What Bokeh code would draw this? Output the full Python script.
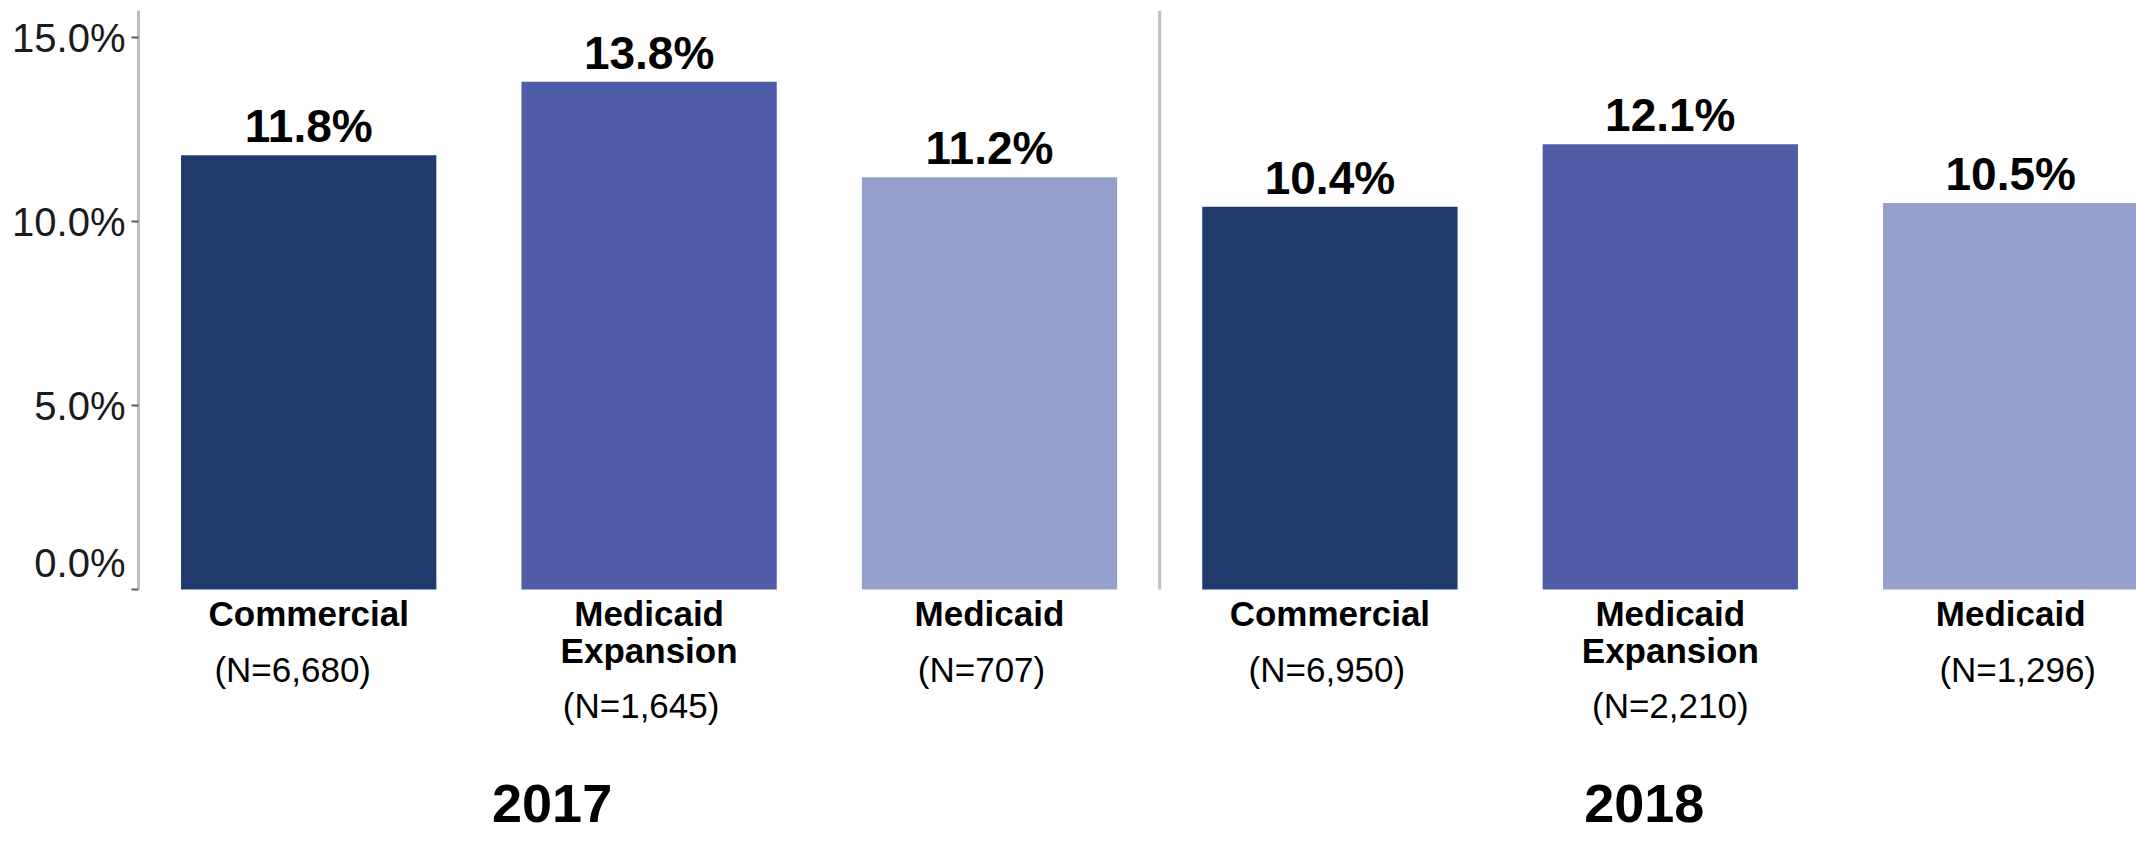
from bokeh.plotting import figure
from bokeh.models import ColumnDataSource, Range1d, FixedTicker, PrintfTickFormatter
from bokeh.core.properties import value
from bokeh.embed import file_html
from bokeh.resources import INLINE
import numpy as np

# ---------------- data ----------------
years = ["2017", "2018"]
categories = ["Commercial", "Medicaid Expansion", "Medicaid"]
rates_2017 = [11.8, 13.8, 11.2]
rates_2018 = [10.4, 12.1, 10.5]
n_2017 = ["6,680", "1,645", "707"]
n_2018 = ["6,950", "2,210", "1,296"]
y_ticks = [0, 5, 10, 15]

# ---------------- style ----------------
FONT = "Liberation Sans"
cat_colors = {"Commercial": "#203A6E", "Medicaid Expansion": "#4E5DA5", "Medicaid": "#95A0CC"}

W, H = 2136, 841
LEFT, TOP = 138, 10
ZERO_PX = 589           # screen y of value 0
PPU = 36.8              # pixels per percentage point
Y_END = (ZERO_PX - TOP) / PPU
Y_START = -(H - ZERO_PX) / PPU
X_START = -0.5
X_END = X_START + (W - LEFT) / 340.4
N_XOFF = [-16, -8, -8, -3, 0, 7]   # small horizontal nudges of the (N=...) labels

# ---------------- build source ----------------
rates = rates_2017 + rates_2018
ns = n_2017 + n_2018
cats = categories * len(years)
xs = np.arange(len(rates))
line1, line2, n_off = [], [], []
for c in cats:
    parts = c.split(" ", 1)
    line1.append(parts[0])
    line2.append(parts[1] if len(parts) > 1 else "")
    n_off.append(80 + 36 * (len(parts) - 1))

src = ColumnDataSource(dict(
    x=xs,
    top=rates,
    zero=[0] * len(rates),
    color=[cat_colors[c] for c in cats],
    vlabel=[f"{r:.1f}%" for r in rates],
    line1=line1,
    line2=line2,
    nlabel=[f"(N={n})" for n in ns],
    n_off=n_off,
    n_xoff=N_XOFF,
))

p = figure(width=W, height=H, output_backend="svg", toolbar_location=None,
           x_range=Range1d(X_START, X_END), y_range=Range1d(Y_START, Y_END),
           x_axis_location=None, min_border_left=LEFT, min_border_right=0,
           min_border_top=TOP, min_border_bottom=0, outline_line_color=None,
           background_fill_color="white", border_fill_color="white")
p.grid.visible = False

# bars
p.vbar(x="x", top="top", bottom=0, width=0.75, source=src, fill_color="color", line_color=None)

# value labels
p.text(x="x", y="top", text="vlabel", source=src, text_align="center", text_baseline="alphabetic",
       y_offset=-29, text_font=value(FONT), text_font_style="bold", text_font_size="46px",
       text_color="#000000")

# category labels
p.text(x="x", y="zero", text="line1", source=src, text_align="center", text_baseline="alphabetic",
       y_offset=24, text_font=value(FONT), text_font_style="bold", text_font_size="35px",
       text_color="#000000")
p.text(x="x", y="zero", text="line2", source=src, text_align="center", text_baseline="alphabetic",
       y_offset=61, text_font=value(FONT), text_font_style="bold", text_font_size="35px",
       text_color="#000000")
p.text(x="x", y="zero", text="nlabel", source=src, text_align="center", text_baseline="alphabetic",
       x_offset="n_xoff", y_offset="n_off", text_font=value(FONT), text_font_size="35px",
       text_color="#000000")

# year labels
n_cat = len(categories)
year_x = [i * n_cat + (n_cat - 1) / 2 for i in range(len(years))]
year_src = ColumnDataSource(dict(x=year_x, y=[0] * len(years), text=years, xo=[-97, -26]))
p.text(x="x", y="y", text="text", source=year_src, text_align="center", text_baseline="alphabetic",
       x_offset="xo", y_offset=214, text_font=value(FONT), text_font_style="bold",
       text_font_size="54px", text_color="#000000")

# divider between years
div_x = [(i * n_cat - 0.5) for i in range(1, len(years))]
p.segment(x0=div_x, y0=[0] * len(div_x), x1=div_x, y1=[Y_END] * len(div_x),
          line_color="#BFBFBF", line_width=3)

# y axis
ax = p.yaxis[0]
ax.ticker = FixedTicker(ticks=y_ticks)
ax.formatter = PrintfTickFormatter(format="%.1f%%")
ax.bounds = (0, Y_END)
ax.axis_line_color = "#BFBFBF"
ax.axis_line_width = 3
ax.major_tick_line_color = "#595959"
ax.major_tick_line_width = 2
ax.major_tick_in = 0
ax.major_tick_out = 7
ax.minor_tick_line_color = None
ax.major_label_text_font = FONT
ax.major_label_text_font_size = "40px"
ax.major_label_text_color = "#1A1A1A"
ax.major_label_standoff = 6
ax.major_label_overrides = {0: "0.0%\n "}

open("out.html", "w").write(file_html(p, INLINE))
